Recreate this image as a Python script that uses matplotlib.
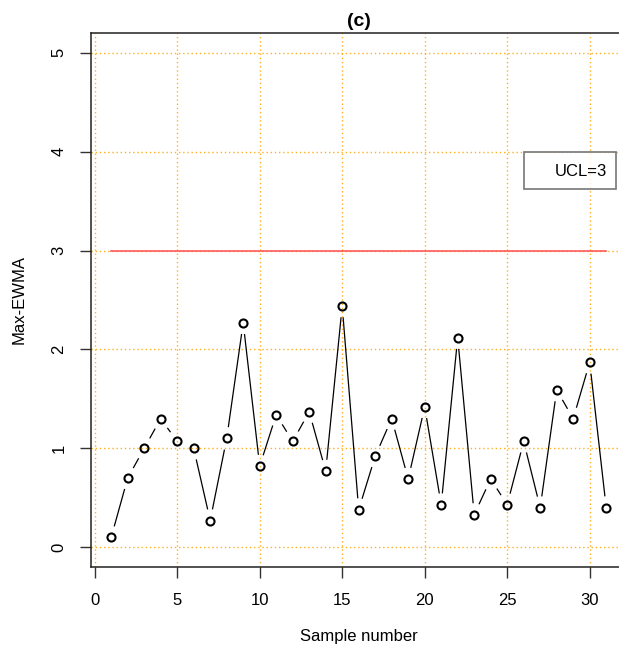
import numpy as np
import matplotlib
matplotlib.use("Agg")
import matplotlib.pyplot as plt
from matplotlib.lines import Line2D

plt.rcParams['font.family'] = ['Liberation Sans', 'DejaVu Sans']

# Max-EWMA statistic per sample
sample = np.arange(1, 32)
max_ewma = [0.10, 0.70, 1.00, 1.30, 1.07, 1.00, 0.27, 1.10, 2.27, 0.82,
            1.34, 1.07, 1.37, 0.77, 2.44, 0.38, 0.92, 1.30, 0.69, 1.42,
            0.43, 2.12, 0.33, 0.69, 0.43, 1.07, 0.40, 1.59, 1.30, 1.87,
            0.40]
ucl = 3
x_ticks = [0, 5, 10, 15, 20, 25, 30]
y_ticks = [0, 1, 2, 3, 4, 5]

W, H = 619, 652
fig = plt.figure(figsize=(W / 100, H / 100), dpi=100)
left, right, top, bottom = 91.4, 626, 33, 567
ax = fig.add_axes([left / W, 1 - bottom / H, (right - left) / W, (bottom - top) / H])
ax.set_xlim(-0.2, 32.2)
ax.set_ylim(-0.2, 5.2)

# grid
for gx in x_ticks:
    ax.axvline(gx, color='#ffb020', ls=(0, (1, 2)), lw=1, zorder=1)
for gy in y_ticks:
    ax.axhline(gy, color='#ffb020', ls=(0, (1, 2)), lw=1, zorder=1)

# control limit
ax.plot([sample[0], sample[-1]], [ucl, ucl], color='#ff5a5a', lw=1.2, zorder=2)

# type="b" style: segments with gaps around each point
gap = 12.0
pts = ax.transData.transform(np.column_stack([sample, max_ewma]))
inv = ax.transData.inverted()
for p0, p1 in zip(pts[:-1], pts[1:]):
    d = p1 - p0
    L = np.hypot(*d)
    if L <= 2 * gap:
        continue
    u = d / L
    a = inv.transform(p0 + u * gap)
    b = inv.transform(p1 - u * gap)
    ax.plot([a[0], b[0]], [a[1], b[1]], color='black', lw=0.9, zorder=3)

ax.plot(sample, max_ewma, ls='none', marker='o', ms=5.8, mfc='none',
        mec='black', mew=1.5, zorder=4)

ax.set_xticks(x_ticks)
ax.set_yticks(y_ticks)
ax.tick_params(axis='both', direction='out', length=8, width=1, labelsize=12,
               color='#333333')
ax.tick_params(axis='x', pad=11)
ax.tick_params(axis='y', pad=10)
for lab in ax.get_yticklabels():
    lab.set_rotation(90)
    lab.set_va('center')

for s in ax.spines.values():
    s.set_linewidth(1.1)
    s.set_color('#222222')

ax.set_title('(c)', fontsize=14, fontweight='bold', pad=5)
ax.set_xlabel('Sample number', fontsize=12, labelpad=15)
ax.set_ylabel('Max-EWMA', fontsize=12, labelpad=18)

leg = ax.legend(handles=[Line2D([], [], color='none')], labels=['UCL=%d' % ucl],
                loc='upper left', bbox_to_anchor=(26, 4),
                bbox_transform=ax.transData, fontsize=12, frameon=True,
                fancybox=False, borderpad=0.55, handlelength=0.85,
                handleheight=1.4, handletextpad=0.47, borderaxespad=0)
leg.get_frame().set_edgecolor('#555555')
leg.get_frame().set_linewidth(1.2)
leg.set_zorder(5)

fig.savefig('out.png', dpi=100)
